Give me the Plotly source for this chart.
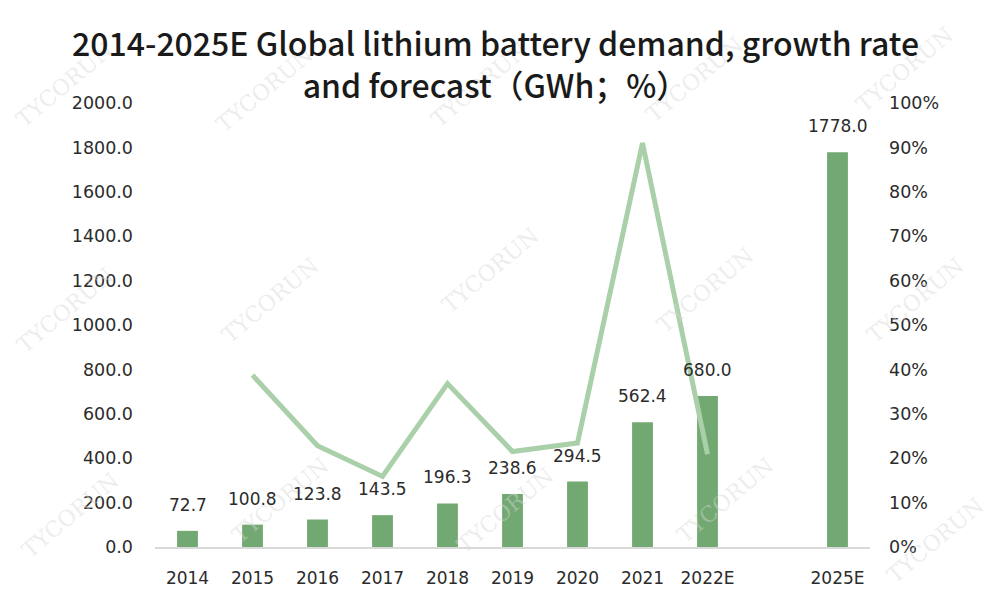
import plotly.graph_objects as go

# Data
categories = ["2014", "2015", "2016", "2017", "2018", "2019", "2020", "2021", "2022E", " ", "2025E"]
bar_categories = ["2014", "2015", "2016", "2017", "2018", "2019", "2020", "2021", "2022E", "2025E"]
demand_gwh = [72.7, 100.8, 123.8, 143.5, 196.3, 238.6, 294.5, 562.4, 680.0, 1778.0]
growth_categories = ["2015", "2016", "2017", "2018", "2019", "2020", "2021", "2022E"]
growth_pct = [38.7, 22.8, 15.9, 36.8, 21.5, 23.4, 91.0, 20.9]
left_ticks = [0, 200, 400, 600, 800, 1000, 1200, 1400, 1600, 1800, 2000]
right_ticks = [0, 10, 20, 30, 40, 50, 60, 70, 80, 90, 100]

BAR_COLOR = "#72a872"
LINE_COLOR = "#a9d0a9"
TEXT_COLOR = "#2b2b2b"
FONT = "DejaVu Sans"

# layout geometry (figure pixels)
ML, MR, MT, MB = 147, 138, 95, 61
PW = 1000 - ML - MR
PH = 600 - MT - MB
OFF = 8  # page offset of the figure in the browser


def px_to_paper(sx, sy):
    return (sx - OFF - ML) / PW, 1 - (sy - OFF - MT) / PH


fig = go.Figure()
fig.add_trace(go.Bar(
    x=bar_categories, y=demand_gwh,
    marker=dict(color=BAR_COLOR, line=dict(width=0)),
    width=0.32,
    hoverinfo="skip",
    showlegend=False,
))
fig.add_trace(go.Scatter(
    x=growth_categories, y=growth_pct,
    mode="lines",
    line=dict(color=LINE_COLOR, width=5),
    yaxis="y2",
    showlegend=False,
    hoverinfo="skip",
))

annotations = []

# Watermarks (faint, as in the reference)
wm_pos = [(65, 85), (265, 90), (480, 85), (695, 80), (905, 70),
          (65, 310), (270, 300), (490, 270), (705, 290), (915, 300),
          (70, 515), (280, 500), (505, 510), (725, 500), (935, 540)]
for sx, sy in wm_pos:
    px, py = px_to_paper(sx, sy)
    annotations.append(dict(
        text="TYCORUN", x=px, y=py,
        xref="paper", yref="paper", xanchor="center", yanchor="middle",
        showarrow=False, textangle=-40,
        font=dict(size=22, color="rgba(215,215,215,0.45)", family="DejaVu Serif"),
    ))

# Value labels above bars (x given as category index on the category axis)
for cat, val in zip(bar_categories, demand_gwh):
    annotations.append(dict(
        x=categories.index(cat), y=val, xref="x", yref="y",
        text=f"{val:.1f}", showarrow=False,
        xanchor="center", yanchor="middle", yshift=26,
        font=dict(size=17, color=TEXT_COLOR, family=FONT),
    ))

# Title
tx, ty = px_to_paper(495, 17)
annotations.append(dict(
    text="2014-2025E Global lithium battery demand, growth rate<br>and forecast（GWh；%）",
    x=tx, y=ty, xref="paper", yref="paper",
    xanchor="center", yanchor="top", showarrow=False, align="center",
    font=dict(size=32, color="#1a1a1a", family="Noto Sans CJK SC", weight=500),
))

fig.update_layout(
    width=1000, height=600,
    paper_bgcolor="white", plot_bgcolor="white",
    margin=dict(l=ML, r=MR, t=MT, b=MB, autoexpand=False),
    bargap=0.68,
    xaxis=dict(
        type="category", categoryorder="array", categoryarray=categories,
        range=[-0.5, len(categories) - 0.5],
        showgrid=False, showline=True, linecolor="#d9d9d9", linewidth=1.5,
        ticks="", tickfont=dict(size=17, color=TEXT_COLOR, family=FONT),
        ticklabelstandoff=15,
    ),
    yaxis=dict(
        range=[0, 2000], tickvals=left_ticks,
        ticktext=[f"{v:.1f}" for v in left_ticks],
        showgrid=False, zeroline=False, showline=False,
        tickfont=dict(size=17.5, color=TEXT_COLOR, family=FONT),
        ticklabelstandoff=21,
    ),
    yaxis2=dict(
        range=[0, 100], tickvals=right_ticks,
        ticktext=[f"{v}%" for v in right_ticks],
        overlaying="y", side="right",
        showgrid=False, zeroline=False, showline=False,
        tickfont=dict(size=17.5, color=TEXT_COLOR, family=FONT),
        ticklabelstandoff=18,
    ),
    annotations=annotations,
)

fig.write_html("out.html")
